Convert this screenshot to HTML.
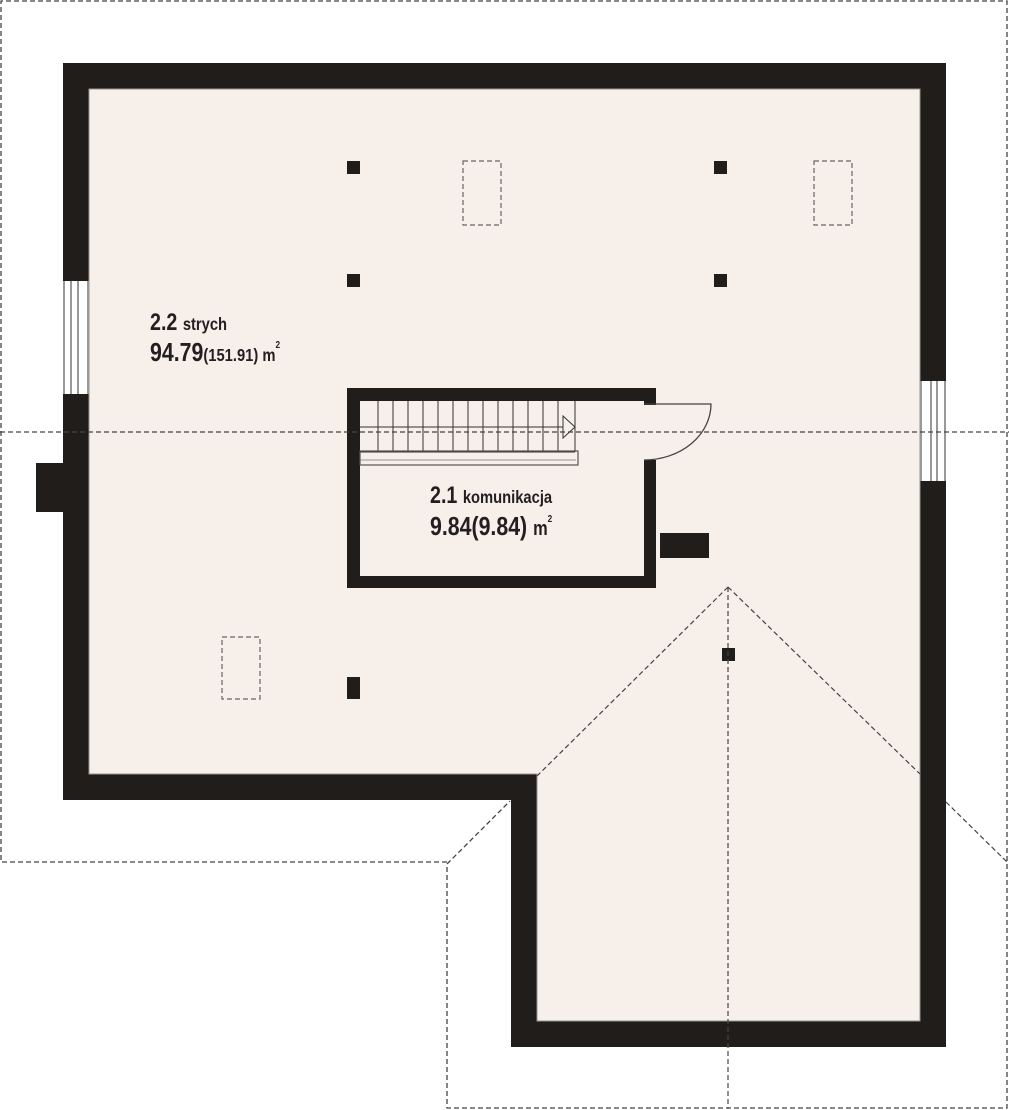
<!DOCTYPE html>
<html><head><meta charset="utf-8"><style>
html,body{margin:0;padding:0;background:#fff;}
svg{display:block;}
text{font-family:"Liberation Sans",Arial,sans-serif;font-weight:bold;fill:#231f20;}
</style></head><body>
<svg width="1009" height="1110" viewBox="0 0 1009 1110" xmlns="http://www.w3.org/2000/svg">
<g fill="none" stroke="#444" stroke-width="1.3" stroke-dasharray="5,3">
<polyline points="447,862 1,862 1,1 1007,1 1007,1108 447,1108 447,864 510,801"/>
</g>
<path d="M63,63 H946 V1047 H511 V800 H63 Z" fill="#211d1a"/>
<path d="M89,89 H920 V1021 H537 V774 H89 Z" fill="#f6efea" stroke="#9a9490" stroke-width="1"/>
<rect x="63" y="281" width="26" height="113" fill="#fff"/>
<g stroke="#555" stroke-width="1.2"><line x1="64" y1="281" x2="64" y2="394"/><line x1="71" y1="281" x2="71" y2="394"/><line x1="78" y1="281" x2="78" y2="394"/><line x1="88" y1="281" x2="88" y2="394"/></g>
<rect x="36" y="463" width="28" height="49" fill="#211d1a"/>
<rect x="920" y="381" width="26" height="100" fill="#fff"/>
<g stroke="#555" stroke-width="1.2"><line x1="921" y1="381" x2="921" y2="481"/><line x1="931" y1="381" x2="931" y2="481"/><line x1="937" y1="381" x2="937" y2="481"/><line x1="945" y1="381" x2="945" y2="481"/></g>
<g fill="#211d1a">
<rect x="347" y="161" width="13" height="13"/><rect x="714" y="161" width="13" height="13"/>
<rect x="347" y="274" width="13" height="13"/><rect x="714" y="274" width="13" height="13"/>
<rect x="722" y="648" width="13" height="13"/>
<rect x="347" y="677" width="13" height="22"/>
<rect x="660" y="533" width="49" height="25"/>
</g>
<g fill="none" stroke="#666" stroke-width="1.2" stroke-dasharray="5,3">
<rect x="463" y="161" width="38" height="64"/>
<rect x="814" y="161" width="38" height="64"/>
<rect x="222" y="637" width="38" height="62"/>
</g>
<path d="M347,388 H656 V405 H644 V401 H360 V576 H644 V460 H656 V588 H347 Z" fill="#211d1a"/>
<path d="M644,404 H711 A67,56 0 0 1 644,460" fill="none" stroke="#444" stroke-width="1.3"/>
<g stroke="#333" stroke-width="1">
<line x1="360" y1="427" x2="575" y2="427"/>
<line x1="360" y1="452" x2="575" y2="452"/>
<line x1="378" y1="401" x2="378" y2="452"/><line x1="393" y1="401" x2="393" y2="452"/><line x1="408" y1="401" x2="408" y2="452"/><line x1="423" y1="401" x2="423" y2="452"/><line x1="438" y1="401" x2="438" y2="452"/><line x1="453" y1="401" x2="453" y2="452"/><line x1="468" y1="401" x2="468" y2="452"/><line x1="483" y1="401" x2="483" y2="452"/><line x1="498" y1="401" x2="498" y2="452"/><line x1="513" y1="401" x2="513" y2="452"/><line x1="528" y1="401" x2="528" y2="452"/><line x1="543" y1="401" x2="543" y2="452"/><line x1="558" y1="401" x2="558" y2="452"/><line x1="575" y1="401" x2="575" y2="452"/>
</g>
<rect x="360" y="451" width="218" height="14" fill="none" stroke="#555" stroke-width="1.2"/>
<line x1="360" y1="460" x2="576" y2="460" stroke="#777" stroke-width="0.8"/>
<polygon points="563,416 575,427 563,438" fill="#f6efea" stroke="#333" stroke-width="1"/>
<g fill="none" stroke="#444" stroke-width="1.2" stroke-dasharray="5,3">
<line x1="0" y1="432" x2="1009" y2="432"/>
<line x1="728" y1="587" x2="537" y2="776"/>
<line x1="728" y1="587" x2="920" y2="774"/>
<line x1="946" y1="802" x2="1007" y2="862"/>
<line x1="728" y1="587" x2="728" y2="1108"/>
</g>
<text transform="translate(150,330) scale(0.82,1)" font-size="24">2.2 <tspan font-size="18">strych</tspan></text>
<text transform="translate(150,361) scale(0.82,1)" font-size="26">94.79<tspan font-size="18">(151.91) m</tspan><tspan font-size="10" dy="-13">2</tspan></text>
<text transform="translate(430,503) scale(0.82,1)" font-size="24">2.1 <tspan font-size="18">komunikacja</tspan></text>
<text transform="translate(430,535) scale(0.82,1)" font-size="26">9.84(9.84) <tspan font-size="20">m</tspan><tspan font-size="10" dy="-13">2</tspan></text>
</svg>
</body></html>
